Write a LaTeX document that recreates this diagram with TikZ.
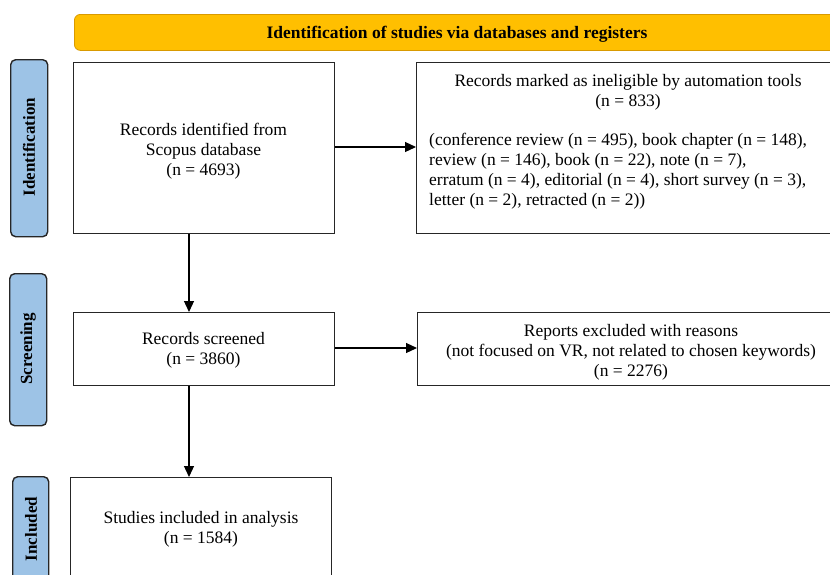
\documentclass[tikz,border=0pt]{standalone}
\usepackage{fontspec}
\setmainfont{Liberation Serif}
\usetikzlibrary{arrows.meta}
\definecolor{bannerfill}{HTML}{FFBF00}
\definecolor{bannerline}{HTML}{D99A00}
\definecolor{sideblue}{HTML}{9DC3E6}
\definecolor{frame}{HTML}{262626}
\begin{document}
\begin{tikzpicture}[x=1pt,y=-1pt,
  box/.style={draw=frame, line width=1.3pt, fill=white, inner sep=0pt, anchor=north west},
  txt/.style={font=\fontsize{17.5}{20}\selectfont, align=center, inner sep=0pt},
  sidelab/.style={draw=frame, line width=1.4pt, fill=sideblue, rounded corners=5pt, inner sep=0pt, anchor=north west},
  sidetxt/.style={font=\fontsize{17}{19}\selectfont\bfseries, rotate=90, inner sep=0pt},
  arr/.style={-{Triangle[length=11pt,width=10pt]}, line width=1.2pt, draw=black}]
\useasboundingbox (0,0) rectangle (830,574);
\clip (0,0) rectangle (830,574);
\fill[white] (0,0) rectangle (830,574);

% banner
\node[draw=bannerline, line width=0.8pt, fill=bannerfill, rounded corners=6pt,
      minimum width=790pt, minimum height=36pt, inner sep=0pt, anchor=north west] (banner) at (74,14) {};
\node[font=\fontsize{17.5}{20}\selectfont\bfseries, inner sep=0pt] (bannertxt) at (457,34) {Identification of studies via databases and registers};

% side labels
\node[sidelab, minimum width=37pt, minimum height=177pt] (sid) at (10,59) {};
\node[sidetxt] (sidt) at (29,147) {Identification};
\node[sidelab, minimum width=37pt, minimum height=152pt] (ssc) at (9,273) {};
\node[sidetxt] (ssct) at (28,349) {Screening};
\node[sidelab, minimum width=36pt, minimum height=130pt] (sin) at (12,476) {};
\node[sidetxt] (sint) at (31,529) {Included};

% boxes
\node[box, minimum width=261pt, minimum height=171pt] (b1) at (73,62) {};
\node[txt] (b1t) at (203.5,151) {Records identified from\\Scopus database\\(n = 4693)};

\node[box, minimum width=430pt, minimum height=171pt] (r1) at (416,62) {};
\node[txt] (r1t) at (628,92) {Records marked as ineligible by automation tools\\(n = 833)};
\node[txt, align=left, anchor=north west] (r1l) at (429,133) {(conference review (n = 495), book chapter (n = 148),\\review (n = 146), book (n = 22), note (n = 7),\\erratum (n = 4), editorial (n = 4), short survey (n = 3),\\letter (n = 2), retracted (n = 2))};

\node[box, minimum width=261pt, minimum height=73pt] (b2) at (73,312) {};
\node[txt] (b2t) at (203.5,350) {Records screened\\(n = 3860)};

\node[box, minimum width=428pt, minimum height=73pt] (r2) at (417,312) {};
\node[txt] (r2t) at (631,352) {Reports excluded with reasons\\(not focused on VR, not related to chosen keywords)\\(n = 2276)};

\node[box, minimum width=261pt, minimum height=130pt] (b3) at (70,477) {};
\node[txt] (b3t) at (201,529) {Studies included in analysis\\(n = 1584)};

% connectors
\draw[arr] (b1.east |- 0,147) -- (r1.west |- 0,147);
\draw[arr] (b2.east |- 0,348) -- (r2.west |- 0,348);
\draw[arr] (189,0 |- b1.south) -- (189,0 |- b2.north);
\draw[arr] (189,0 |- b2.south) -- (189,0 |- b3.north);
\end{tikzpicture}
\end{document}
